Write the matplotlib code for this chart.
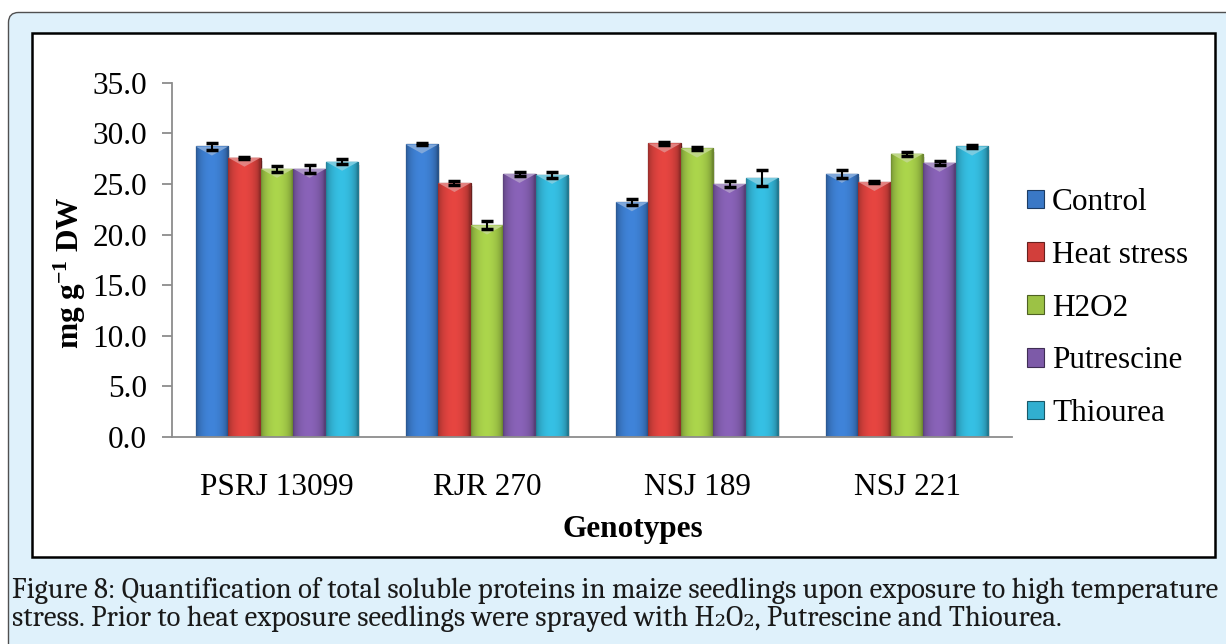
import numpy as np
import matplotlib
matplotlib.use("Agg")
import matplotlib.pyplot as plt
from matplotlib.patches import FancyBboxPatch, Rectangle, Polygon, Patch
from matplotlib.colors import to_rgb

plt.rcParams['font.family'] = ['Liberation Serif', 'DejaVu Serif']
plt.rcParams['mathtext.default'] = 'regular'

# data
genotypes = ['PSRJ 13099', 'RJR 270', 'NSJ 189', 'NSJ 221']
treatments = ['Control', 'Heat stress', 'H2O2', 'Putrescine', 'Thiourea']
control = [28.7, 28.9, 23.2, 26.0]
heat_stress = [27.6, 25.1, 29.0, 25.2]
h2o2 = [26.5, 20.9, 28.5, 28.0]
putrescine = [26.5, 26.0, 25.0, 27.1]
thiourea = [27.2, 25.9, 25.6, 28.7]
err_control = [0.3, 0.1, 0.3, 0.4]
err_heat = [0.1, 0.2, 0.15, 0.1]
err_h2o2 = [0.3, 0.4, 0.1, 0.2]
err_putrescine = [0.4, 0.2, 0.3, 0.2]
err_thiourea = [0.25, 0.3, 0.8, 0.15]

series = [control, heat_stress, h2o2, putrescine, thiourea]
errors = [err_control, err_heat, err_h2o2, err_putrescine, err_thiourea]
colors = ['#3a78c6', '#d23f3b', '#9cc245', '#7d5aa8', '#31afd0']

caption1 = ("Figure 8: Quantification of total soluble proteins in maize seedlings "
            "upon exposure to high temperature")
caption2 = "stress. Prior to heat exposure seedlings were sprayed with H\u2082O\u2082, Putrescine and Thiourea."

W, H = 1226, 644
fig = plt.figure(figsize=(W / 100, H / 100), dpi=100)
fig.patch.set_facecolor('white')

# light blue rounded panel and white chart box (pixel coords -> inches)
outer = FancyBboxPatch((8.5 / 100, -0.3), (W + 40) / 100, (H - 12.5) / 100 + 0.3,
                       boxstyle="round,pad=0,rounding_size=0.1",
                       transform=fig.dpi_scale_trans, fc='#dff1fb', ec='#505050', lw=1.0)
outer.set_zorder(-10)
fig.add_artist(outer)
inner = Rectangle((32 / 100, (H - 557) / 100), (1215 - 32) / 100, (557 - 33) / 100,
                  transform=fig.dpi_scale_trans, fc='white', ec='black', lw=1.8)
inner.set_zorder(-9)
fig.add_artist(inner)

ax = fig.add_axes([172 / W, 1 - 437 / H, (1012 - 172) / W, (437 - 82.7) / H])
ax.patch.set_visible(False)

x = np.arange(len(genotypes))
w = 0.155
ax.set_xlim(-0.5, len(genotypes) - 0.5)
ax.set_ylim(0, 35)

# horizontal shading profile for the bevelled Excel look
u = np.linspace(0, 1, 64)
profile = 0.70 + 0.40 * np.sin(np.pi * np.clip(u * 1.05, 0, 1)) ** 0.5

for i, (vals, errs, col) in enumerate(zip(series, errors, colors)):
    base = np.array(to_rgb(col))
    pos = x + (i - 2) * w
    bars = ax.bar(pos, vals, width=w, color=col, edgecolor=tuple(base * 0.5),
                  linewidth=0.9, zorder=2, label=treatments[i])
    for b in bars:
        x0, x1 = b.get_x(), b.get_x() + b.get_width()
        top = b.get_height()
        # faint drop shadow to the right
        ax.add_patch(Rectangle((x1, 0), w * 0.06, top - 0.3, fc='#000000', alpha=0.10,
                               ec='none', zorder=1.9))
        img = np.clip(base[None, None, :] * profile[None, :, None], 0, 1)
        im = ax.imshow(img, extent=(x0, x1, 0, top), aspect='auto', zorder=2.1,
                       interpolation='bilinear')
        im.set_clip_path(b)
        light = tuple(base + (1 - base) * 0.35)
        ax.add_patch(Polygon([(x0, top), (x1, top), ((x0 + x1) / 2, top - 0.9)],
                             closed=True, fc=light, ec='none', zorder=2.2))
    ax.errorbar(pos, vals, yerr=errs, fmt='none', ecolor='black', elinewidth=1.5,
                capsize=4.3, capthick=2.5, zorder=3)

ax.set_xlim(-0.5, len(genotypes) - 0.5)
ax.set_ylim(0, 35)

for s in ['top', 'right']:
    ax.spines[s].set_visible(False)
for s in ['left', 'bottom']:
    ax.spines[s].set_color('#8c8c8c')
    ax.spines[s].set_linewidth(1.3)

ax.set_yticks(np.arange(0, 35.1, 5))
ax.set_yticklabels([f"{v:.1f}" for v in np.arange(0, 35.1, 5)])
ax.set_xticks(x)
ax.set_xticklabels(genotypes)
ax.tick_params(axis='y', length=7, width=1.3, color='#8c8c8c', pad=11, labelsize=22.5)
ax.tick_params(axis='x', length=0, pad=26, labelsize=22.5)

ax.set_ylabel('mg g$^{-1}$ DW', fontsize=22.5, fontweight='bold')
ax.yaxis.label.set_va('center')
ax.yaxis.set_label_coords((70 - 172) / 840, (437 - 273) / 354.3)
ax.set_xlabel('Genotypes', fontsize=22.5, fontweight='bold')
ax.xaxis.label.set_va('center')
ax.xaxis.set_label_coords((633 - 172) / 840, (437 - 530) / 354.3)

handles = [Patch(fc=c, ec=tuple(np.array(to_rgb(c)) * 0.5), lw=0.8) for c in colors]
fig.legend(handles, treatments, loc='upper left', bbox_to_anchor=(1027 / W, 1 - 188 / H),
           frameon=False, fontsize=22.5, handlelength=0.55, handleheight=0.55,
           handletextpad=0.25, labelspacing=0.76, borderpad=0, borderaxespad=0)

# caption, fitted to the width of the panel (Caladea is metric-compatible with Cambria)
t1 = fig.text(12 / W, 1 - 598 / H, caption1, ha='left', va='baseline',
              fontsize=15, family=['Caladea', 'DejaVu Serif'], color='#1a1a1a')
fig.canvas.draw()
wpx = t1.get_window_extent().width
fs = 15 * 1208 / wpx
t1.set_fontsize(fs)
fig.text(12 / W, 1 - 626 / H, caption2, ha='left', va='baseline',
         fontsize=fs, family=['Caladea', 'DejaVu Serif'], color='#1a1a1a')

fig.savefig('out.png', dpi=100)
